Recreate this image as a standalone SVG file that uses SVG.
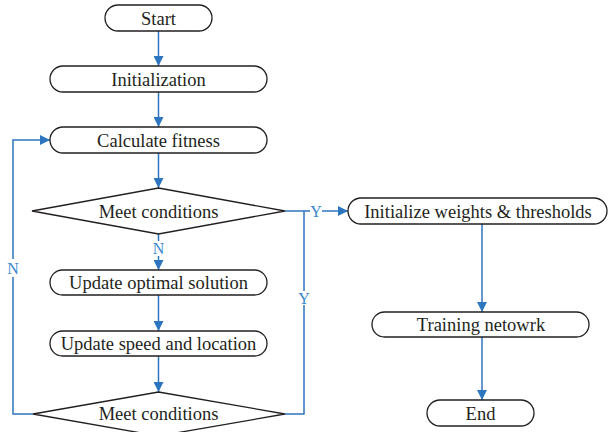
<svg xmlns="http://www.w3.org/2000/svg" width="610" height="432" viewBox="0 0 610 432">
<defs>
<style>
.box{fill:#fff;stroke:#231f20;stroke-width:1.3}
.t{font-family:'Liberation Serif','DejaVu Serif',serif;font-size:18.5px;fill:#231f20;text-anchor:middle}
.c{fill:none;stroke:#2e75c0;stroke-width:1.5}
.l{font-family:'Liberation Serif','DejaVu Serif',serif;font-size:16px;fill:#3a86d0;text-anchor:middle}
</style>
<marker id="a" markerWidth="10" markerHeight="10" viewBox="0 0 10 10" refX="10" refY="5" orient="auto" markerUnits="userSpaceOnUse">
<path d="M0,0 L10,5 L0,10 Z" fill="#2e75c0"/>
</marker>
</defs>
<rect width="610" height="432" fill="#fff"/>
<g id="connectors">
<line class="c" x1="158.5" y1="31" x2="158.5" y2="66" marker-end="url(#a)"/>
<line class="c" x1="158.5" y1="92" x2="158.5" y2="127" marker-end="url(#a)"/>
<line class="c" x1="158.5" y1="153" x2="158.5" y2="188" marker-end="url(#a)"/>
<line class="c" x1="158.5" y1="234" x2="158.5" y2="241"/>
<line class="c" x1="158.5" y1="256" x2="158.5" y2="270" marker-end="url(#a)"/>
<line class="c" x1="158.5" y1="295" x2="158.5" y2="331" marker-end="url(#a)"/>
<line class="c" x1="158.5" y1="356" x2="158.5" y2="392" marker-end="url(#a)"/>
<polyline class="c" points="33,414 13,414 13,140 50,140" marker-end="url(#a)"/>
<polyline class="c" points="285,414 304,414 304,305"/>
<line class="c" x1="304" y1="291" x2="304" y2="211"/>
<line class="c" x1="285" y1="211" x2="310" y2="211"/>
<line class="c" x1="322" y1="211" x2="348" y2="211" marker-end="url(#a)"/>
<line class="c" x1="482" y1="224" x2="482" y2="312" marker-end="url(#a)"/>
<line class="c" x1="482" y1="337" x2="482" y2="400" marker-end="url(#a)"/>
<rect x="8" y="259" width="10" height="18" fill="#fff"/>
<text class="l" x="13" y="274">N</text>
<text class="l" x="158.5" y="254">N</text>
<text class="l" x="316" y="217">Y</text>
<text class="l" x="304" y="304">Y</text>
</g>
<g id="start"><rect class="box" x="105" y="5" width="107" height="26" rx="13"/><text class="t" x="158.5" y="24.5">Start</text></g>
<g id="init"><rect class="box" x="50" y="66" width="217" height="26" rx="13"/><text class="t" x="158.5" y="85.5">Initialization</text></g>
<g id="fitness"><rect class="box" x="50" y="127" width="217" height="26" rx="13"/><text class="t" x="158.5" y="146.5">Calculate fitness</text></g>
<g id="cond1"><polygon class="box" points="158.5,188 285,211 158.5,234 32,211"/><text class="t" x="158.5" y="217.5">Meet conditions</text></g>
<g id="optimal"><rect class="box" x="50" y="270" width="217" height="25" rx="12.5"/><text class="t" x="158.5" y="289">Update optimal solution</text></g>
<g id="speed"><rect class="box" x="50" y="331" width="217" height="25" rx="12.5"/><text class="t" x="158.5" y="350">Update speed and location</text></g>
<g id="cond2"><polygon class="box" points="158.5,392 285,414 158.5,436 33,414"/><text class="t" x="158.5" y="419.5">Meet conditions</text></g>
<g id="weights"><rect class="box" x="348" y="198" width="259" height="26" rx="13"/><text class="t" x="478" y="217.5">Initialize weights &amp; thresholds</text></g>
<g id="train"><rect class="box" x="372" y="312" width="217" height="25" rx="12.5"/><text class="t" x="481" y="331">Training netowrk</text></g>
<g id="end"><rect class="box" x="427" y="400" width="107" height="26" rx="13"/><text class="t" x="480.5" y="419.5">End</text></g>
</svg>
